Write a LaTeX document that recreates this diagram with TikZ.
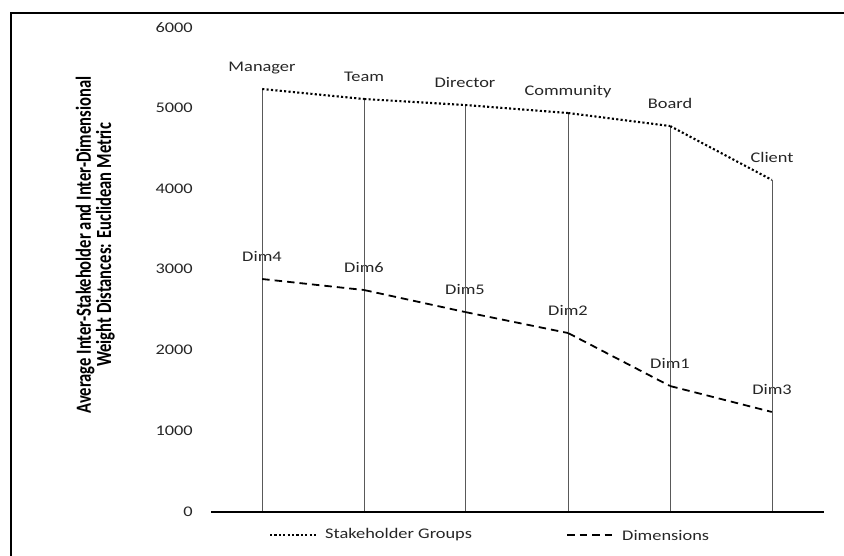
\documentclass[tikz,border=0pt]{standalone}
\usepackage{fontspec}
\newfontfamily\chartfont[FakeStretch=1.25]{Carlito}
\newfontfamily\titlefont[BoldFont={Carlito Bold}]{Carlito}
\usetikzlibrary{positioning}

\begin{document}
\begin{tikzpicture}[x=1pt,y=-1pt,font=\chartfont\fontsize{14.7}{17}\selectfont,
                    text=black!85]
  \tikzstyle{pt}=[inner sep=0pt,minimum size=0pt]
  \tikzstyle{lbl}=[anchor=base,inner sep=0pt,yshift=17pt]
  \tikzstyle{tick}=[anchor=east,inner sep=0pt]
  \tikzstyle{stake}=[line width=2.1pt,dash pattern=on 2.1pt off 2.3pt]
  \tikzstyle{dims}=[line width=1.8pt,dash pattern=on 7.5pt off 5pt]
  \tikzstyle{drop}=[line width=1pt,black!65]

  \useasboundingbox (0,0) rectangle (844,555);

  % frame
  \coordinate (fr0) at (11,556);
  \coordinate (fr1) at (11,13);
  \coordinate (fr2) at (845,13);
  \draw[line width=2pt] (fr0) -- (fr1) -- (fr2);

  % axis title
  \node[rotate=90,inner sep=0pt,text=black,
        font=\titlefont\bfseries\fontsize{16.6}{13}\selectfont] (ytitle) at (96,245)
       {\scalebox{1}[1.3]{\begin{tabular}{@{}c@{}}Average Inter-Stakeholder and Inter-Dimensional\\Weight Distances: Euclidean Metric\end{tabular}}};

  % ticks
  \node[tick] (t6) at (193,28)  {6000};
  \node[tick] (t5) at (193,108) {5000};
  \node[tick] (t4) at (193,189) {4000};
  \node[tick] (t3) at (193,269) {3000};
  \node[tick] (t2) at (193,350) {2000};
  \node[tick] (t1) at (193,431) {1000};
  \node[tick] (t0) at (193,512) {0};

  % stakeholder groups
  \node[pt,label={[lbl]90:Manager}]   (man) at (262,89)  {};
  \node[pt,label={[lbl]90:Team}]      (tea) at (364,99)  {};
  \node[pt,label={[lbl]90:Director}]  (dir) at (465,105) {};
  \node[pt,label={[lbl]90:Community}] (com) at (568,113) {};
  \node[pt,label={[lbl]90:Board}]     (boa) at (670,126) {};
  \node[pt,label={[lbl]90:Client}]    (cli) at (772,180) {};

  % dimensions
  \node[pt,label={[lbl]90:Dim4}] (d4) at (262,279) {};
  \node[pt,label={[lbl]90:Dim6}] (d6) at (364,290) {};
  \node[pt,label={[lbl]90:Dim5}] (d5) at (465,312) {};
  \node[pt,label={[lbl]90:Dim2}] (d2) at (568,333) {};
  \node[pt,label={[lbl]90:Dim1}] (d1) at (670,386) {};
  \node[pt,label={[lbl]90:Dim3}] (d3) at (772,412) {};

  % axis feet
  \coordinate (b1) at (262,512);
  \coordinate (b2) at (364,512);
  \coordinate (b3) at (465,512);
  \coordinate (b4) at (568,512);
  \coordinate (b5) at (670,512);
  \coordinate (b6) at (772,512);
  \coordinate (ax0) at (211,512);
  \coordinate (ax1) at (824,512);

  \draw[drop] (b1) -- (man);
  \draw[drop] (b2) -- (tea);
  \draw[drop] (b3) -- (dir);
  \draw[drop] (b4) -- (com);
  \draw[drop] (b5) -- (boa);
  \draw[drop] (b6) -- (cli);
  \draw[line width=1.8pt] (ax0) -- (ax1);

  \draw[stake] (man) -- (tea) -- (dir) -- (com) -- (boa) -- (cli);
  \draw[dims]  (d4) -- (d6) -- (d5) -- (d2) -- (d1) -- (d3);

  % legend
  \coordinate (lg1a) at (270,535);
  \coordinate (lg1b) at (316,535);
  \coordinate (lg2a) at (567,535);
  \coordinate (lg2b) at (615,535);
  \draw[stake] (lg1a) -- (lg1b);
  \draw[dims]  (lg2a) -- (lg2b);
  \node[anchor=west,inner sep=0pt,right=9pt of lg1b] (lgs) {Stakeholder Groups};
  \node[anchor=west,inner sep=0pt,right=7pt of lg2b] (lgd) {Dimensions};
\end{tikzpicture}
\end{document}
